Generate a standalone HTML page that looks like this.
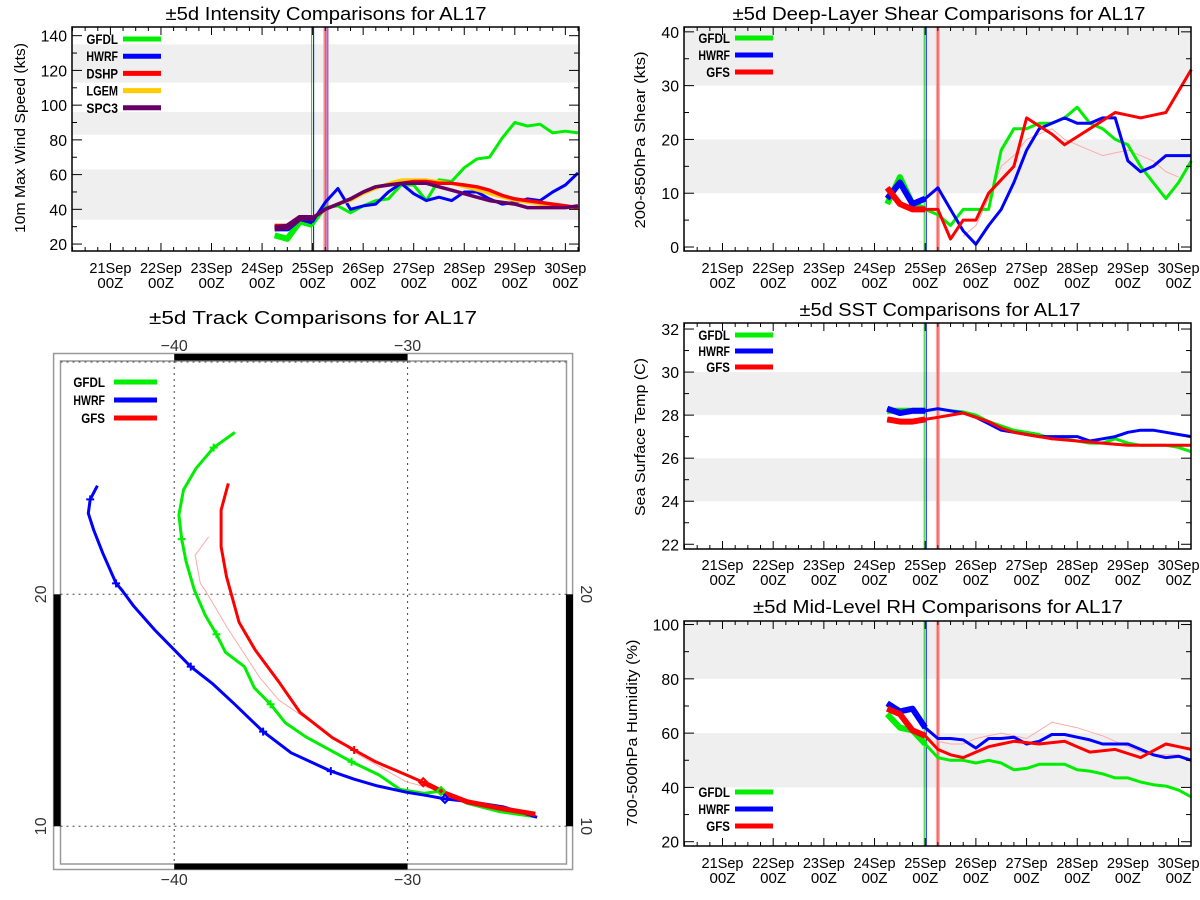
<!DOCTYPE html>
<html><head><meta charset="utf-8"><style>
html,body{margin:0;padding:0;background:#fff;}
svg{display:block;font-family:"Liberation Sans",sans-serif;}
</style></head><body>
<svg id="root" width="1200" height="900" viewBox="0 0 1200 900" xmlns="http://www.w3.org/2000/svg"></svg>
<script>
// ---------- shared data ----------
const times = [3.25,3.5,3.75,4.0,4.25,4.5,4.75,5.0,5.25,5.5,5.75,6.0,6.25,6.5,6.75,7.0,7.25,7.5,7.75,8.0,8.25,8.5,8.75,9.0,9.25];
const dayLabels = ["21Sep","22Sep","23Sep","24Sep","25Sep","26Sep","27Sep","28Sep","29Sep","30Sep"];
const markerTimes = [3.98,4.02,4.25];
// intensity (kts)
const intGFDL = [25,23,33,31,41,42,38,42,45,46,54,54,45,57,56,64,69,70,81,90,88,89,84,85,84];
const intHWRF = [29,29,35,33,44,52,40,42,43,50,55,49,45,47,45,50,50,46,43,44,46,45,50,54,61];
const intLGEM = [30,30,35,35,40,43,45,49,52,55,57,57,57,56,55,53,51,49,47,45,44,43,42,42,41];
const intDSHP = [30,30,35,35,40,43,46,50,53,54,55,56,56,55,55,54,53,51,48,46,45,44,43,42,41];
const intSPC3 = [29,30,35,35,40,43,46,50,53,54,55,55,55,53,51,49,47,45,44,43,41,41,41,41,42];
const intTicks = [20,40,60,80,100,120,140];
// shear (kts)
const shrGFDL = [8,13,8,7,6,4,7,7,7,18,22,22,23,23,24,26,23,22,20,19,15,12,9,12,16];
const shrHWRF = [9,12,8,9,11,7,3,0.5,4,7,12,18,22,23,24,23,23,24,24,16,14,15,17,17,17];
const shrGFS  = [11,8,7,7,7,1.5,5,5,10,12.5,15,24,22.5,21,19,20.5,22,23.5,25,24.5,24,24.5,25,29,33];
const shrPink = [null,null,null,null,null,null,2,4,9,15,17,20,21,22,20,19,18,17,17.5,18,17,16,14,13,null];
const shrTicks = [0,10,20,30,40];
// SST (C)
const sstGFDL = [28.2,28.2,28.2,28.2,28.3,28.2,28.15,28.0,27.7,27.5,27.3,27.2,27.1,26.9,26.9,26.8,26.7,26.7,26.9,26.7,26.6,26.6,26.6,26.5,26.3];
const sstHWRF = [28.3,28.1,28.2,28.2,28.3,28.2,28.1,27.9,27.6,27.3,27.2,27.1,27.0,27.0,27.0,27.0,26.8,26.9,27.0,27.2,27.3,27.3,27.2,27.1,27.0];
const sstGFS  = [27.8,27.7,27.7,27.8,27.9,28.0,28.1,27.9,27.7,27.4,27.2,27.1,27.0,26.9,26.85,26.8,26.75,26.7,26.65,26.6,26.6,26.6,26.6,26.6,26.6];
const sstTicks = [22,24,26,28,30,32];
// RH (%)
const rhGFDL = [67,62,61,56,51,50,50,49,50,49,46.5,47,48.5,48.5,48.5,46.5,46,45,43.5,43.5,42,41,40.5,39,36.5];
const rhHWRF = [71,68,69,62,58,58,57.5,54.5,58,58,58.5,56,57,59.5,59.5,58.5,57.5,56,56,56,54,52,51,51.5,50];
const rhGFS  = [69,67,61,59,54,52,51,53,55,56,57,56.5,56,56.5,57,55,53,53.5,54,52.5,51,53.5,56,55,54];
const rhPink = [null,null,null,null,57,56,56,58,59,60,59,58,61,64,63,62,60.5,59,57,55,53,52,52,52,null];
const rhTicks = [20,40,60,80,100];
// track (lon, lat)
const trkGFDLlon = [-37.40,-38.31,-39.06,-39.60,-39.80,-39.68,-39.49,-39.14,-38.68,-38.19,-37.80,-36.99,-36.57,-35.87,-35.25,-34.37,-32.40,-31.22,-30.33,-29.29,-28.57,-27.45,-26.06,-24.53];
const trkGFDLlat = [26.98,26.32,25.43,24.50,23.42,22.38,21.41,20.19,19.12,18.28,17.50,16.88,15.97,15.26,14.47,13.86,12.78,12.21,11.59,11.42,11.52,10.99,10.63,10.41];
const trkGFDLmk = [1,5,9,13,16];
const trkHWRFlon = [-43.29,-43.60,-43.68,-43.45,-43.06,-42.49,-42.25,-41.75,-40.83,-39.29,-38.37,-37.45,-36.19,-34.99,-33.29,-32.29,-31.30,-30.06,-29.14,-28.40,-27.30,-25.91,-24.45];
const trkHWRFlat = [24.68,24.09,23.49,22.77,21.77,20.47,20.19,19.51,18.46,16.88,16.16,15.30,14.08,13.17,12.38,12.03,11.74,11.47,11.32,11.18,11.06,10.84,10.39];
const trkHWRFmk = [1,5,9,12,14];
const trkGFSlon = [-37.68,-37.99,-37.99,-37.76,-37.22,-36.53,-35.52,-34.60,-33.22,-32.29,-31.37,-30.37,-29.33,-28.37,-27.45,-26.06,-24.53];
const trkGFSlat = [24.78,23.63,22.05,20.76,18.79,17.60,16.23,14.90,13.82,13.29,12.78,12.35,11.90,11.42,11.06,10.78,10.52];
const trkGFSmk = [9];
const trkPinkLon = [-38.52,-39.10,-38.88,-38.68,-37.76,-36.34,-35.52,-34.37,-32.22,-30.06,-28.83];
const trkPinkLat = [22.48,21.69,20.47,20.19,18.61,16.42,15.44,14.66,13.15,11.92,11.59];
const lonTicks = [-40,-30];
const latTicks = [20,10];

// ---------- helpers ----------
const NS = "http://www.w3.org/2000/svg";
const root = document.getElementById("root");
function mk(tag, attrs, parent){ const e=document.createElementNS(NS,tag); for(const k in attrs) e.setAttribute(k,attrs[k]); (parent||root).appendChild(e); return e; }
function txt(s, attrs, parent){ const e=mk("text",attrs,parent); e.textContent=s; return e; }

const COL = {GFDL:"#00ee00",HWRF:"#0000ff",GFS:"#ff0000",DSHP:"#ff0000",LGEM:"#ffcc00",SPC3:"#660066",PINK:"#ffaaaa"};

function legendLabel(s,x,y,parent,name){
  const t=txt(s,{x:x,y:y+5,"text-anchor":"end","font-size":14,"font-weight":"bold",fill:"#000",textLength:s.length*7.9,lengthAdjust:"spacingAndGlyphs"},parent);
  
  
}

function drawChart(cfg){
  const g = mk("g",{});
  
  
  const b = cfg.box;
  const X = t => b.l + (t - cfg.tmin)/(cfg.tmax-cfg.tmin)*(b.r-b.l);
  const Y = v => b.b - (v - cfg.ymin)/(cfg.ymax-cfg.ymin)*(b.b-b.t);
  cfg.bands.forEach(bd=>{
    const y1=Y(Math.min(bd[1],cfg.ymax)), y0=Y(bd[0]);
    const r = mk("rect",{x:b.l,y:y1,width:b.r-b.l,height:y0-y1,fill:"#efefef"},g);
    
    
  });
  const vl=[["#00dd00",1,null],["#0000ff",1,null],["#ff3333",1,"#ffaaaa"]];
  markerTimes.forEach((t,i)=>{
    const x=X(t);
    if(vl[i][2]) mk("line",{x1:x,x2:x,y1:b.t,y2:b.b,stroke:vl[i][2],"stroke-width":4},g);
    const l=mk("line",{x1:x,x2:x,y1:b.t,y2:b.b,stroke:vl[i][0],"stroke-width":vl[i][1]},g);
    
    
  });
  if(cfg.name==="intensity-chart"){
    const x=X(4.29); mk("line",{x1:x,x2:x,y1:b.t,y2:b.b,stroke:"#cc99cc","stroke-width":3},g);
    mk("line",{x1:x,x2:x,y1:b.t,y2:b.b,stroke:"#aa55aa","stroke-width":1},g);
  }
  cfg.series.forEach(s=>{
    const pts=[], early=[];
    times.forEach((t,i)=>{ const v=s.data[i]; if(v==null) return; pts.push(X(t).toFixed(1)+","+Y(v).toFixed(1)); if(t<=4.0) early.push(X(t).toFixed(1)+","+Y(v).toFixed(1)); });
    const p=mk("polyline",{points:pts.join(" "),fill:"none",stroke:s.color,"stroke-width":s.w||3,"stroke-linejoin":"round"},g);
    
    
    if(!s.thin && early.length>1){
      mk("polyline",{points:early.join(" "),fill:"none",stroke:s.color,"stroke-width":6,"stroke-linejoin":"round"},g);
    }
  });
  const fr=mk("rect",{x:b.l,y:b.t,width:b.r-b.l,height:b.b-b.t,fill:"none",stroke:"#000","stroke-width":1.5},g);
  
  
  for(let q=Math.ceil(cfg.tmin*4); q<=Math.floor(cfg.tmax*4); q++){
    const t=q/4, x=X(t), len=(q%4===0)?8:4;
    mk("line",{x1:x,x2:x,y1:b.b,y2:b.b-len,stroke:"#000","stroke-width":1},g);
    mk("line",{x1:x,x2:x,y1:b.t,y2:b.t+len,stroke:"#000","stroke-width":1},g);
  }
  dayLabels.forEach((d,i)=>{
    const x=X(i);
    const t1=txt(d,{x:x,y:cfg.xly,"text-anchor":"middle","font-size":15,fill:"#000",textLength:42,lengthAdjust:"spacingAndGlyphs"},g);
    
    
    const t2=txt("00Z",{x:x,y:cfg.xly+15,"text-anchor":"middle","font-size":15,fill:"#000",textLength:26,lengthAdjust:"spacingAndGlyphs"},g);
    
    
  });
  const step=cfg.yticks[1]-cfg.yticks[0];
  for(let v=cfg.yticks[0]; v<=cfg.ymax; v+=step/2){
    const y=Y(v), major=Math.abs((v-cfg.yticks[0])/step-Math.round((v-cfg.yticks[0])/step))<1e-6, len=major?10:5;
    mk("line",{x1:b.l,x2:b.l+len,y1:y,y2:y,stroke:"#000","stroke-width":1},g);
    mk("line",{x1:b.r,x2:b.r-len,y1:y,y2:y,stroke:"#000","stroke-width":1},g);
  }
  cfg.yticks.forEach(v=>{
    const s=String(v);
    const t=txt(s,{x:b.l-5,y:Y(v)+6,"text-anchor":"end","font-size":16,fill:"#000",textLength:s.length*8.8,lengthAdjust:"spacingAndGlyphs"},g);
    
    
  });
  const yt=txt(cfg.ytitle,{x:cfg.ytx,y:cfg.yty,"text-anchor":"middle","font-size":15,fill:"#000",textLength:cfg.ytlen,lengthAdjust:"spacingAndGlyphs",transform:`rotate(-90 ${cfg.ytx} ${cfg.yty})`},g);
  
  
  const tt=txt(cfg.title,{x:cfg.titlex,y:cfg.titley,"text-anchor":"middle","font-size":18,fill:"#000",textLength:cfg.titlelen,lengthAdjust:"spacingAndGlyphs"},g);
  
  
  cfg.series.filter(s=>s.legend).forEach((s,i)=>{
    const y=cfg.leg.y+i*cfg.leg.dy;
    legendLabel(s.legend,cfg.leg.x-5,y,g,'legend-label');
    const l=mk("line",{x1:cfg.leg.x,x2:cfg.leg.x+38,y1:y,y2:y,stroke:s.color,"stroke-width":5},g);
    
    
  });
}

drawChart({name:"intensity-chart",box:{l:72,t:27,r:579,b:251},tmin:-0.76,tmax:9.27,ymin:16,ymax:145,
  bands:[[34,63],[83,96],[113,135]],yticks:intTicks,xly:273,ytitle:"10m Max Wind Speed (kts)",ytx:25,yty:138,ytlen:190,
  title:"±5d Intensity Comparisons for AL17",titlex:326,titley:20,titlelen:321,leg:{x:123,y:39,dy:17.2},
  series:[{name:"gfdl-intensity-line",data:intGFDL,color:COL.GFDL,legend:"GFDL"},
          {name:"hwrf-intensity-line",data:intHWRF,color:COL.HWRF,legend:"HWRF"},
          {name:"lgem-intensity-line",data:intLGEM,color:COL.LGEM},
          {name:"dshp-intensity-line",data:intDSHP,color:COL.DSHP,legend:"DSHP",w:3.5},
          {name:"spc3-intensity-line",data:intSPC3,color:COL.SPC3,w:3.5}]
});
(function(){
  const ents=[["LGEM",COL.LGEM,3],["SPC3",COL.SPC3,4]];
  ents.forEach(e=>{
    const y=39+e[2]*17.2;
    legendLabel(e[0],118,y,root,'legend-label');
    const l=mk("line",{x1:123,x2:161,y1:y,y2:y,stroke:e[1],"stroke-width":5});
    
    
  });
})();

drawChart({name:"shear-chart",box:{l:684,t:27,r:1191,b:251},tmin:-0.76,tmax:9.245,ymin:-0.74,ymax:40.9,
  bands:[[10,20],[30,41]],yticks:shrTicks,xly:273,ytitle:"200-850hPa Shear (kts)",ytx:645,yty:140,ytlen:177,
  title:"±5d Deep-Layer Shear Comparisons for AL17",titlex:939,titley:20,titlelen:413,leg:{x:735,y:38,dy:17},
  series:[{name:"pink-shear-line",data:shrPink,color:COL.PINK,w:1,thin:true},
          {name:"gfdl-shear-line",data:shrGFDL,color:COL.GFDL,legend:"GFDL"},
          {name:"hwrf-shear-line",data:shrHWRF,color:COL.HWRF,legend:"HWRF"},
          {name:"gfs-shear-line",data:shrGFS,color:COL.GFS,legend:"GFS"}]
});
drawChart({name:"sst-chart",box:{l:684,t:323,r:1191,b:549},tmin:-0.76,tmax:9.245,ymin:21.78,ymax:32.28,
  bands:[[24,26],[28,30]],yticks:sstTicks,xly:570,ytitle:"Sea Surface Temp (C)",ytx:645,yty:437,ytlen:158,
  title:"±5d SST Comparisons for AL17",titlex:940,titley:316,titlelen:281,leg:{x:735,y:335,dy:16},
  series:[{name:"gfdl-sst-line",data:sstGFDL,color:COL.GFDL,legend:"GFDL"},
          {name:"hwrf-sst-line",data:sstHWRF,color:COL.HWRF,legend:"HWRF"},
          {name:"gfs-sst-line",data:sstGFS,color:COL.GFS,legend:"GFS"}]
});
drawChart({name:"rh-chart",box:{l:684,t:621,r:1191,b:846},tmin:-0.76,tmax:9.245,ymin:18.42,ymax:101.3,
  bands:[[40,60],[80,101.3]],yticks:rhTicks,xly:868,ytitle:"700-500hPa Humidity (%)",ytx:637,yty:733,ytlen:187,
  title:"±5d Mid-Level RH Comparisons for AL17",titlex:938,titley:613,titlelen:370,leg:{x:735,y:792,dy:17},
  series:[{name:"pink-rh-line",data:rhPink,color:COL.PINK,w:1,thin:true},
          {name:"gfdl-rh-line",data:rhGFDL,color:COL.GFDL,legend:"GFDL"},
          {name:"hwrf-rh-line",data:rhHWRF,color:COL.HWRF,legend:"HWRF"},
          {name:"gfs-rh-line",data:rhGFS,color:COL.GFS,legend:"GFS"}]
});

// ---------- track map ----------
(function(){
  const g=mk("g",{});
  
  
  const LX = lon => 174.2 + (lon+40)*23.34;
  const LY = lat => 826.3 - (lat-10)*23.2;
  const t=txt("±5d Track Comparisons for AL17",{x:313,y:324,"text-anchor":"middle","font-size":18,fill:"#000",textLength:328,lengthAdjust:"spacingAndGlyphs"},g);
  
  
  mk("rect",{x:53.6,y:353.5,width:519,height:516,fill:"none",stroke:"#999","stroke-width":1.5},g);
  mk("rect",{x:60.5,y:361,width:506,height:503,fill:"#fff",stroke:"#999","stroke-width":1.5},g);
  mk("rect",{x:LX(-40),y:354,width:LX(-30)-LX(-40),height:6.5,fill:"#000"},g);
  mk("rect",{x:LX(-40),y:863.5,width:LX(-30)-LX(-40),height:6,fill:"#000"},g);
  mk("rect",{x:53.6,y:LY(20),width:7,height:LY(10)-LY(20),fill:"#000"},g);
  mk("rect",{x:566,y:LY(20),width:7,height:LY(10)-LY(20),fill:"#000"},g);
  lonTicks.forEach(lon=>{
    const x=LX(lon);
    const l=mk("line",{x1:x,x2:x,y1:361,y2:864,stroke:"#444","stroke-width":1,"stroke-dasharray":"2,4"},g);
    
    
    [351,885].forEach(yy=>{
      const tl=txt("\u2212"+Math.abs(lon),{x:x,y:yy,"text-anchor":"middle","font-size":16,fill:"#333"},g);
      
      
    });
  });
  mk("line",{x1:60.5,x2:566.5,y1:362,y2:362,stroke:"#444","stroke-width":1,"stroke-dasharray":"2,4"},g);
  latTicks.forEach(lat=>{
    const y=LY(lat);
    const l=mk("line",{x1:60.5,x2:566.5,y1:y,y2:y,stroke:"#444","stroke-width":1,"stroke-dasharray":"2,4"},g);
    
    
    const a=txt(String(lat),{x:46,y:y,"text-anchor":"middle","font-size":16,fill:"#333",transform:`rotate(-90 46 ${y})`},g);
    
    
    const c=txt(String(lat),{x:581,y:y,"text-anchor":"middle","font-size":16,fill:"#333",transform:`rotate(90 581 ${y})`},g);
    
    
  });
  function track(name,lons,lats,mks,color,w){
    const pts=lons.map((lo,i)=>LX(lo).toFixed(1)+","+LY(lats[i]).toFixed(1)).join(" ");
    const p=mk("polyline",{points:pts,fill:"none",stroke:color,"stroke-width":w,"stroke-linejoin":"round"},g);
    
    
    (mks||[]).forEach(i=>{
      const x=LX(lons[i]), y=LY(lats[i]);
      const m=mk("path",{d:`M${x-4},${y}H${x+4}M${x},${y-4}V${y+4}`,stroke:color,"stroke-width":2},g);
      
      
    });
  }
  track("pink-track",trkPinkLon,trkPinkLat,[],COL.PINK,1);
  track("gfdl-track",trkGFDLlon,trkGFDLlat,trkGFDLmk,COL.GFDL,3);
  track("hwrf-track",trkHWRFlon,trkHWRFlat,trkHWRFmk,COL.HWRF,3);
  track("gfs-track",trkGFSlon,trkGFSlat,trkGFSmk,COL.GFS,3);
  const hist=trkGFSlon.slice(12).map((lo,i)=>LX(lo).toFixed(1)+","+LY(trkGFSlat[12+i]).toFixed(1)).join(" ");
  mk("polyline",{points:hist,fill:"none",stroke:COL.GFS,"stroke-width":5},g);
  [[trkGFSlon[12],trkGFSlat[12],COL.GFS],[trkGFDLlon[20],trkGFDLlat[20],COL.GFDL],[trkHWRFlon[19],trkHWRFlat[19],COL.HWRF]].forEach(d=>{
    const x=LX(d[0]), y=LY(d[1]);
    const m=mk("path",{d:`M${x},${y-4}L${x+4},${y}L${x},${y+4}L${x-4},${y}Z`,fill:"none",stroke:d[2],"stroke-width":2},g);
    
    
  });
  [["GFDL",COL.GFDL],["HWRF",COL.HWRF],["GFS",COL.GFS]].forEach((e,i)=>{
    const y=382+i*18;
    legendLabel(e[0],105,y,g,'track-legend-label');
    const l=mk("line",{x1:114,x2:157,y1:y,y2:y,stroke:e[1],"stroke-width":5},g);
    
    
  });
})();
</script>
</body></html>
